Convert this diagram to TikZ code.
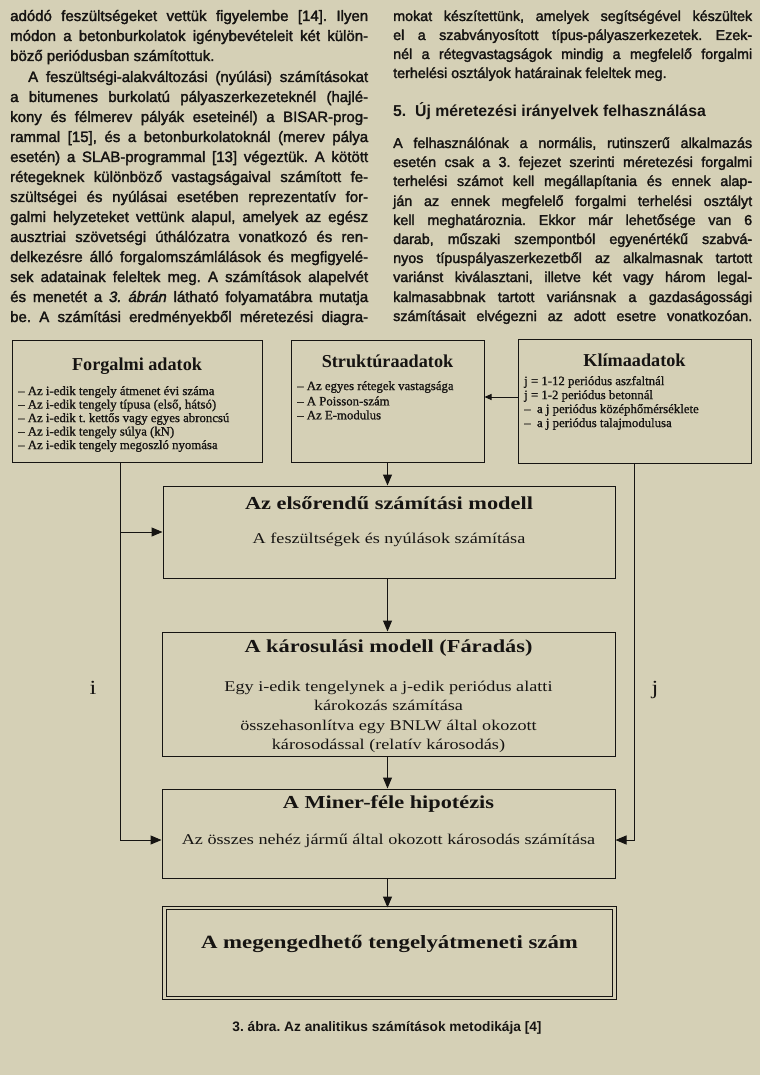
\documentclass[tikz,border=0pt]{standalone}
\usepackage{fontspec}
\setmainfont{Liberation Sans}[FakeBold=2]
\newfontfamily\hdfont{Liberation Sans}
\newfontfamily\tmfont{Liberation Serif}
\newfontfamily\itmfont{Liberation Serif}[FakeBold=1]
\newfontfamily\csfont{Liberation Serif}[FakeStretch=1.22]
\usetikzlibrary{arrows.meta}
\definecolor{paper}{RGB}{213,208,182}
\definecolor{ink}{RGB}{22,20,18}
\frenchspacing
\tikzset{
  txtL/.style={anchor=base west, inner sep=0pt, text=ink, font=\fontsize{15}{17}\selectfont},
  txtR/.style={anchor=base west, inner sep=0pt, text=ink, font=\fontsize{14.3}{17}\selectfont},
  hdtxt/.style={anchor=base west, inner sep=0pt, text=ink, font=\hdfont\fontsize{15.8}{17}\selectfont\bfseries},
  boxnode/.style={draw=ink, line width=1pt, inner sep=0pt},
  ttl/.style={inner sep=0pt, text=ink, font=\tmfont\fontsize{18.2}{20}\selectfont\bfseries},
  itm/.style={anchor=west, inner sep=0pt, text=ink, font=\itmfont\fontsize{12.8}{14}\selectfont},
  cttl/.style={inner sep=0pt, text=ink, font=\csfont\fontsize{18.3}{22}\selectfont\bfseries},
  ctxt/.style={inner sep=0pt, text=ink, font=\csfont\fontsize{14.9}{19.3}\selectfont},
  arr/.style={draw=ink, line width=1pt, -{Triangle[length=11pt,width=9pt]}},
  sarr/.style={draw=ink, line width=1pt, -{Triangle[length=7pt,width=6pt]}},
}
\newcommand\LLine[4]{\node[txtL] (#1) at (#2,#3) {\makebox[358pt][s]{#4}};}
\newcommand\RLine[3]{\node[txtR] (#1) at (393,#2) {\makebox[359pt][s]{#3}};}
\begin{document}
\begin{tikzpicture}[x=1pt,y=-1pt]
\fill[paper] (0,0) rectangle (760,1075);
\useasboundingbox (0,0) rectangle (760,1075);
% ---------- left column ----------
\LLine{l1}{10}{21}{adódó feszültségeket vettük figyelembe [14]. Ilyen}
\LLine{l2}{10}{41}{módon a betonburkolatok igénybevételeit két külön-}
\node[txtL] (l3) at (10,61) {böző periódusban számítottuk.};
\node[txtL] (l4) at (28,82) {\makebox[340pt][s]{A feszültségi-alakváltozási (nyúlási) számításokat}};
\LLine{l5}{10}{102}{a bitumenes burkolatú pályaszerkezeteknél (hajlé-}
\LLine{l6}{10}{122}{kony és félmerev pályák eseteinél) a BISAR-prog-}
\LLine{l7}{10}{142}{rammal [15], és a betonburkolatoknál (merev pálya}
\LLine{l8}{10}{162}{esetén) a SLAB-programmal [13] végeztük. A kötött}
\LLine{l9}{10}{182}{rétegeknek különböző vastagságaival számított fe-}
\LLine{l10}{10}{202}{szültségei és nyúlásai esetében reprezentatív for-}
\LLine{l11}{10}{222}{galmi helyzeteket vettünk alapul, amelyek az egész}
\LLine{l12}{10}{242}{ausztriai szövetségi úthálózatra vonatkozó és ren-}
\LLine{l13}{10}{262}{delkezésre álló forgalomszámlálások és megfigyelé-}
\LLine{l14}{10}{282}{sek adatainak feleltek meg. A számítások alapelvét}
\LLine{l15}{10}{302}{és menetét a \textit{3. ábrán} látható folyamatábra mutatja}
\LLine{l16}{10}{322}{be. A számítási eredményekből méretezési diagra-}
% ---------- right column ----------
\RLine{r1}{21}{mokat készítettünk, amelyek segítségével készültek}
\RLine{r2}{40}{el a szabványosított típus-pályaszerkezetek. Ezek-}
\RLine{r3}{59}{nél a rétegvastagságok mindig a megfelelő forgalmi}
\node[txtR] (r4) at (393,78) {terhelési osztályok határainak feleltek meg.};
\node[hdtxt] (hd) at (393,117) {5.\ \ Új méretezési irányelvek felhasználása};
\RLine{r5}{148}{A felhasználónak a normális, rutinszerű alkalmazás}
\RLine{r6}{167}{esetén csak a 3. fejezet szerinti méretezési forgalmi}
\RLine{r7}{186}{terhelési számot kell megállapítania és ennek alap-}
\RLine{r8}{206}{ján az ennek megfelelő forgalmi terhelési osztályt}
\RLine{r9}{225}{kell meghatároznia. Ekkor már lehetősége van 6}
\RLine{r10}{244}{darab, műszaki szempontból egyenértékű szabvá-}
\RLine{r11}{263}{nyos típuspályaszerkezetből az alkalmasnak tartott}
\RLine{r12}{282}{variánst kiválasztani, illetve két vagy három legal-}
\RLine{r13}{302}{kalmasabbnak tartott variánsnak a gazdaságossági}
\RLine{r14}{321}{számításait elvégezni az adott esetre vonatkozóan.}
% ---------- boxes ----------
\node[boxnode, minimum width=250pt, minimum height=122pt] (forg) at (137,401) {};
\node[boxnode, minimum width=193pt, minimum height=122pt] (struk) at (387.5,401.5) {};
\node[boxnode, minimum width=233pt, minimum height=124pt] (klima) at (634.5,401) {};
\node[boxnode, minimum width=452pt, minimum height=92pt] (model) at (389,532) {};
\node[boxnode, minimum width=453pt, minimum height=124pt] (damage) at (388.5,694) {};
\node[boxnode, minimum width=453pt, minimum height=89pt] (miner) at (388.5,833.5) {};
\node[draw=ink, line width=1pt, double=paper, double distance=2.5pt, minimum width=450pt, minimum height=90pt, inner sep=0pt] (final) at (389.5,953) {};
% ---------- box texts ----------
\node[ttl] (forgT) at (137,366) {Forgalmi adatok};
\node[itm] (f1) at (18,392) {– Az i-edik tengely átmenet évi száma};
\node[itm] (f2) at (18,405.5) {– Az i-edik tengely típusa (első, hátsó)};
\node[itm] (f3) at (18,419) {– Az i-edik t. kettős vagy egyes abroncsú};
\node[itm] (f4) at (18,432.5) {– Az i-edik tengely súlya (kN)};
\node[itm] (f5) at (18,446) {– Az i-edik tengely megoszló nyomása};
\node[ttl] (strukT) at (387.5,361) {Struktúraadatok};
\node[itm] (s1) at (297,387) {– Az egyes rétegek vastagsága};
\node[itm] (s2) at (297,401) {– A Poisson-szám};
\node[itm] (s3) at (297,415) {– Az E-modulus};
\node[ttl] (klimaT) at (634.5,360) {Klímaadatok};
\node[itm] (k1) at (524,382) {j = 1-12 periódus aszfaltnál};
\node[itm] (k2) at (524,396) {j = 1-2 periódus betonnál};
\node[itm] (k3) at (524,410) {–\ \ a j periódus középhőmérséklete};
\node[itm] (k4) at (524,424) {–\ \ a j periódus talajmodulusa};
\node[cttl] (modelT) at (389,503) {Az elsőrendű számítási modell};
\node[ctxt] (modelS) at (389,540) {A feszültségek és nyúlások számítása};
\node[cttl] (damageT) at (388.5,648) {A károsulási modell (Fáradás)};
\node[ctxt, align=center] (damageS) at (388.5,717) {Egy i-edik tengelynek a j-edik periódus alatti\\károkozás számítása\\összehasonlítva egy BNLW által okozott\\károsodással (relatív károsodás)};
\node[cttl] (minerT) at (388.5,804) {A Miner-féle hipotézis};
\node[ctxt] (minerS) at (388.5,841) {Az összes nehéz jármű által okozott károsodás számítása};
\node[cttl, font=\csfont\fontsize{18.7}{22}\selectfont\bfseries] (finalT) at (389.5,944) {A megengedhető tengelyátmeneti szám};
\node[inner sep=0pt, text=ink, font=\csfont\fontsize{20}{22}\selectfont] (ilab) at (93,688) {i};
\node[inner sep=0pt, text=ink, font=\csfont\fontsize{20}{22}\selectfont] (jlab) at (655,690) {j};
\node[inner sep=0pt, text=ink, font=\hdfont\fontsize{13.7}{16}\selectfont\bfseries] (cap) at (387,1028) {3. ábra. Az analitikus számítások metodikája [4]};
% ---------- connectors ----------
\coordinate (ky) at (0,397);
\coordinate (fx) at (120,0);
\coordinate (my) at (0,840);
\draw[sarr] (klima.west |- ky) -- (struk.east |- ky);
\draw[arr] (struk.south) -- (struk.south |- model.north);
\draw[arr] (forg.south -| fx) |- (miner.west |- my);
\draw[arr] (fx |- model.west) -- (model.west);
\draw[arr] (klima.south) |- (miner.east |- my);
\draw[arr] (model.south -| struk.south) -- (damage.north -| struk.south);
\draw[arr] (damage.south -| struk.south) -- (miner.north -| struk.south);
\draw[arr] (miner.south -| struk.south) -- (final.north -| struk.south);
\end{tikzpicture}
\end{document}
